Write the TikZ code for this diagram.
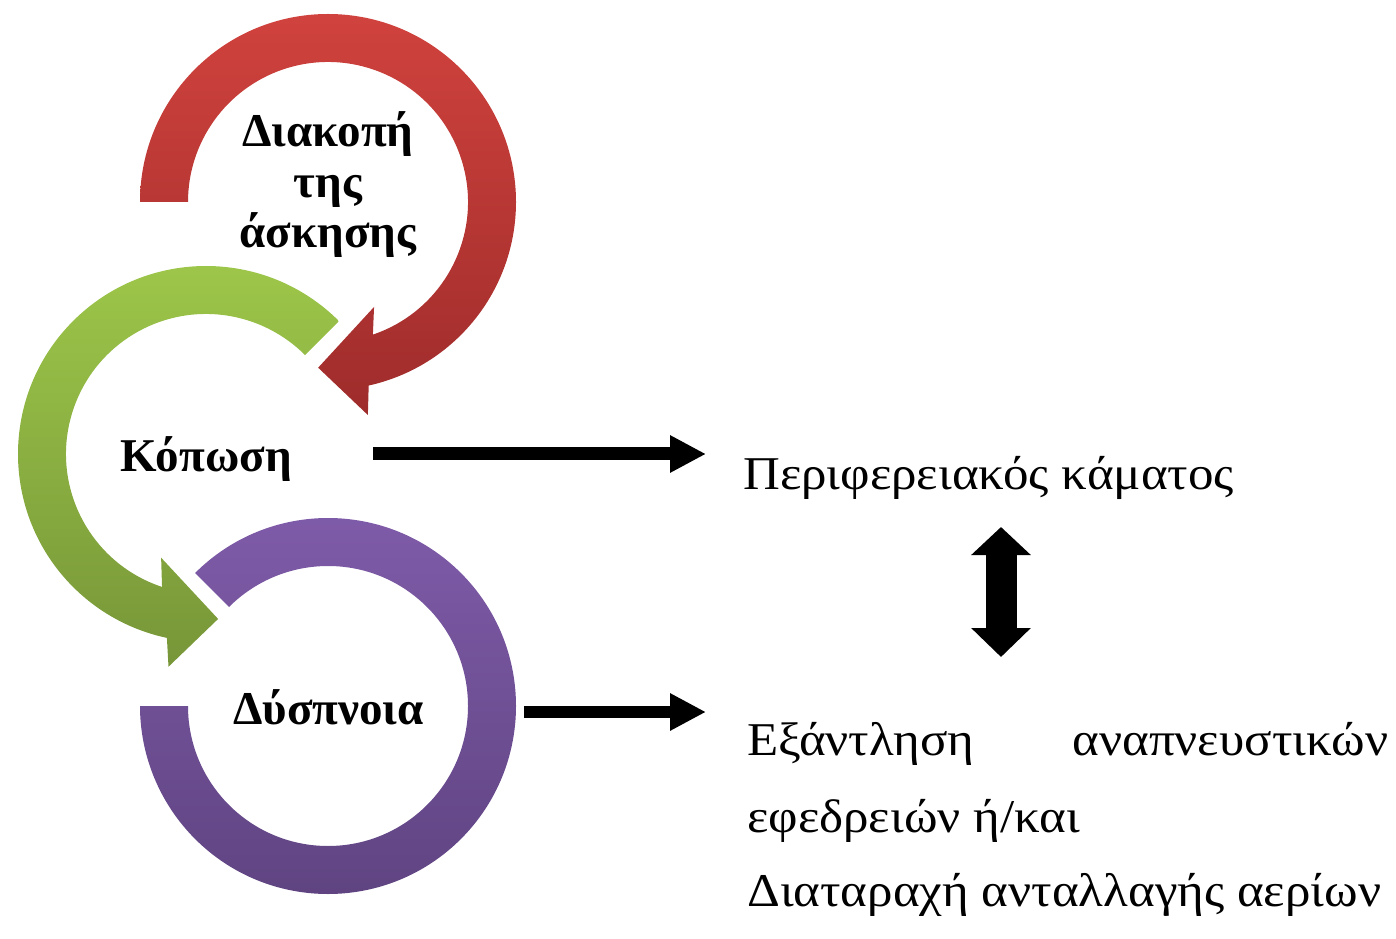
\documentclass[tikz,border=0pt]{standalone}
\usepackage{fontspec}
\setmainfont{Liberation Serif}
\newfontfamily\widefont[FakeStretch=1.085]{Liberation Serif}
\usetikzlibrary{arrows.meta}
\definecolor{redT}{RGB}{208,66,61}
\definecolor{redB}{RGB}{158,44,43}
\definecolor{grnT}{RGB}{158,200,74}
\definecolor{grnB}{RGB}{119,150,56}
\definecolor{purT}{RGB}{128,92,170}
\definecolor{purB}{RGB}{94,67,128}
\begin{document}
\begin{tikzpicture}[x=1pt,y=1pt,
  lbl/.style={inner sep=0pt, font=\fontsize{47}{50.5}\selectfont\bfseries},
  txt/.style={inner sep=0pt, anchor=base west, font=\widefont\fontsize{47}{52}\selectfont},
  blkarrow/.style={line width=#1, draw=black}
]
\useasboundingbox (0,0) rectangle (1396,938);
% red circular arrow
\begin{scope}[shift={(328,736)}]
\shade[top color=redT, bottom color=redB]
  (180:188) arc[start angle=180,end angle=-77.5,radius=188]
  -- (-79.4:216.7) -- (-93.4:166) -- (-66.3:114.6) -- (-71.3:140)
  arc[start angle=-71.3,end angle=180,radius=140] -- cycle;
\end{scope}
% green circular arrow
\begin{scope}[shift={(206,484)}]
\shade[top color=grnT, bottom color=grnB]
  (45:188) arc[start angle=45,end angle=258,radius=188]
  -- (260:216) -- (274.2:165.4) -- (246.6:113) -- (251.7:140)
  arc[start angle=251.7,end angle=45,radius=140] -- cycle;
\end{scope}
% purple circular band
\begin{scope}[shift={(328,232)}]
\shade[top color=purT, bottom color=purB]
  (135:188) arc[start angle=135,end angle=-180,radius=188]
  -- (180:140) arc[start angle=180,end angle=495,radius=140] -- cycle;
\end{scope}
% labels
\node[lbl, anchor=base] (diak) at (328,791)
  {\begin{tabular}[t]{@{}c@{}}Διακοπή\\της\\άσκησης\end{tabular}};
\node[lbl, anchor=base] (kop) at (206,467) {Κόπωση};
\node[lbl, anchor=base] (dys) at (328.5,214) {Δύσπνοια};
\node[txt] (per) at (743,449) {Περιφερειακός κάματος};
\node[txt] (ex1) at (747,183) {\makebox[641pt][s]{Εξάντληση αναπνευστικών}};
\node[txt] (ex2) at (747,106) {εφεδρειών ή/και};
\node[txt] (ex3) at (747,32) {Διαταραχή ανταλλαγής αερίων};
% black arrows
\coordinate (a1s) at (373,484); \coordinate (a1e) at (706,484);
\coordinate (a2s) at (524,226); \coordinate (a2e) at (706,226);
\coordinate (dtop) at (1001,411); \coordinate (dbot) at (1001,281);
\draw[blkarrow=13pt, -{Triangle[length=36pt,width=35pt]}] (a1s) -- (a1e);
\draw[blkarrow=12pt, -{Triangle[length=36pt,width=35pt]}] (a2s) -- (a2e);
\draw[blkarrow=31pt, {Triangle[length=28pt,width=58pt]}-{Triangle[length=29pt,width=58pt]}] (dtop) -- (dbot);
\end{tikzpicture}
\end{document}
